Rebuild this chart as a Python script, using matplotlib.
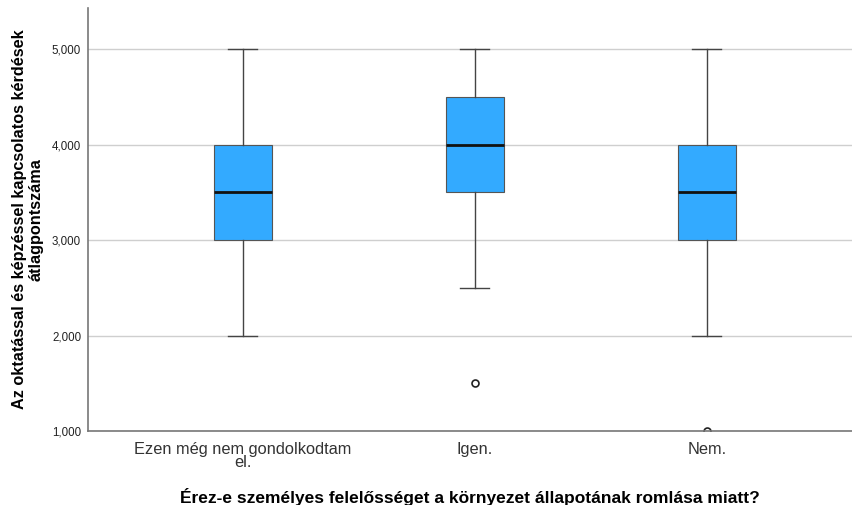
import matplotlib
matplotlib.use("Agg")
import matplotlib.pyplot as plt
from matplotlib.ticker import FuncFormatter

plt.rcParams["font.family"] = ["Liberation Sans", "DejaVu Sans"]

categories = ["Ezen még nem gondolkodtam\nel.", "Igen.", "Nem."]
whislo = [2.0, 2.5, 2.0]
q1 = [3.0, 3.5, 3.0]
med = [3.5, 4.0, 3.5]
q3 = [4.0, 4.5, 4.0]
whishi = [5.0, 5.0, 5.0]
fliers = [[], [1.5], [1.0]]
y_ticks = [1, 2, 3, 4, 5]

stats = [
    dict(label=c, whislo=lo, q1=a, med=m, q3=b, whishi=hi, fliers=f)
    for c, lo, a, m, b, hi, f in zip(categories, whislo, q1, med, q3, whishi, fliers)
]

fig = plt.figure(figsize=(8.52, 5.05), dpi=100)
ax = fig.add_axes([0.1033, 0.1465, 0.8967, 0.8375])

ax.set_axisbelow(True)
ax.yaxis.grid(True, color="#cfcfcf", linewidth=1.0)

ax.bxp(
    stats,
    positions=range(len(categories)),
    widths=0.246,
    patch_artist=True,
    boxprops=dict(facecolor="#33aaff", edgecolor="#555555", linewidth=0.8),
    medianprops=dict(color="#111111", linewidth=2.0),
    whiskerprops=dict(color="#444444", linewidth=1.0),
    capprops=dict(color="#444444", linewidth=1.0),
    capwidths=0.125,
    flierprops=dict(marker="o", markersize=5, markerfacecolor="white",
                    markeredgecolor="#222222", markeredgewidth=1.2),
)

ax.set_xlim(-0.668, 2.625)
ax.set_ylim(1.0, 5.43)
ax.set_yticks(y_ticks)
ax.yaxis.set_major_formatter(FuncFormatter(lambda v, p: f"{v:.3f}".replace(".", ",")))
ax.tick_params(axis="y", length=0, labelsize=8.3, pad=5, labelcolor="#222222")
ax.tick_params(axis="x", length=0, labelsize=11.8, pad=8, labelcolor="#333333")
ax.set_xticks(range(len(categories)))
ax.set_xticklabels(categories, linespacing=0.8)

for side in ("top", "right"):
    ax.spines[side].set_visible(False)
for side in ("left", "bottom"):
    ax.spines[side].set_color("#777777")
    ax.spines[side].set_linewidth(1.2)

ax.set_ylabel("Az oktatással és képzéssel kapcsolatos kérdések\nátlagpontszáma",
              fontsize=11.7, fontweight="bold", linespacing=1.1, labelpad=6)
ax.set_xlabel("Érez-e személyes felelősséget a környezet állapotának romlása miatt?",
              fontsize=12.5, fontweight="bold", labelpad=13)

fig.savefig("out.png", dpi=100)
